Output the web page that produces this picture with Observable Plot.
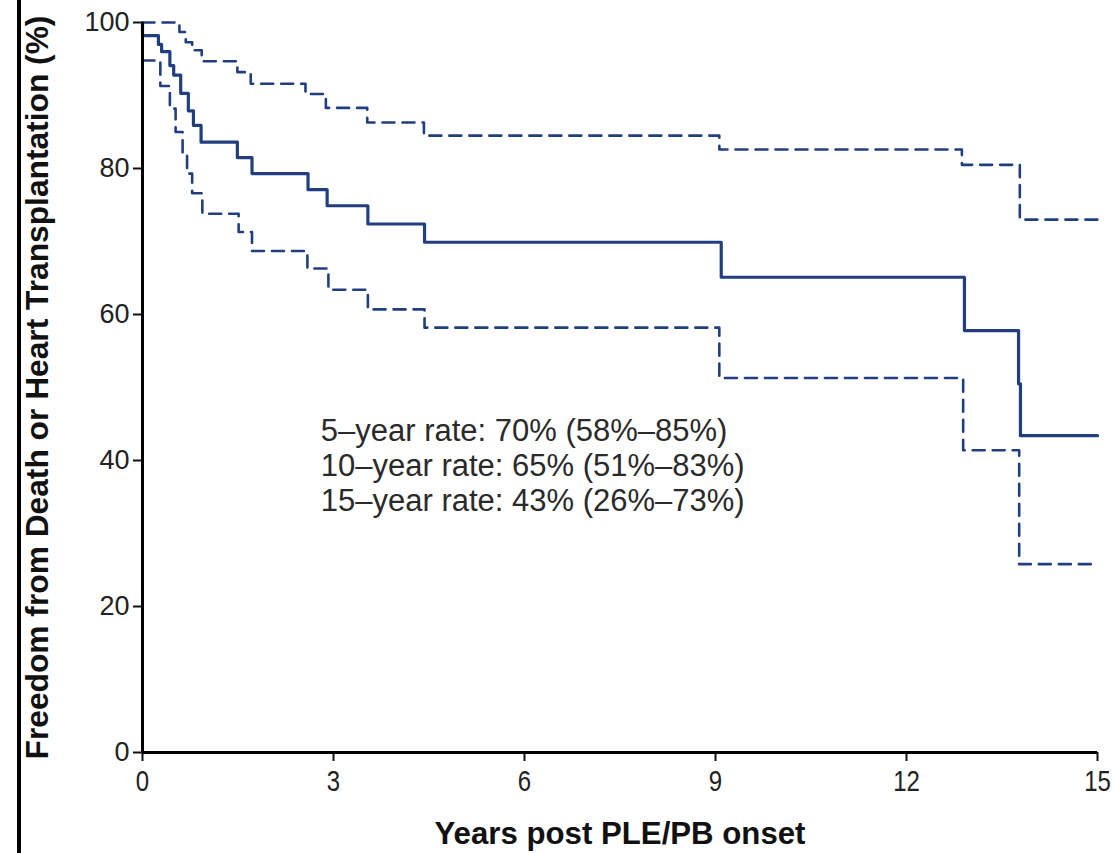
<!DOCTYPE html>
<html>
<head>
<meta charset="utf-8">
<script src="https://cdn.jsdelivr.net/npm/d3@7"></script>
<script src="https://cdn.jsdelivr.net/npm/@observablehq/plot@0.6"></script>
<style>
  html, body { margin: 0; padding: 0; background: #fff; }
  #wrap { position: relative; width: 1114px; height: 853px; overflow: hidden; }
  #wrap::before { content: ""; position: absolute; left: 17px; top: 0; width: 4px; height: 853px; background: #000; }
  svg { font-family: "Liberation Sans", Arial, sans-serif; }
  g[aria-label="y-axis tick label"] text { font-size: 27px; fill: #222; }
  g[aria-label="x-axis tick label"] text { font-family: "Liberation Sans", Arial, sans-serif; font-size: 30px; fill: #222; }
  .xtitle text, .ytitle text { font-family: "Liberation Sans", Arial, sans-serif; font-weight: bold; fill: #111; }
</style>
</head>
<body>
<div id="wrap"></div>
<script>
// Kaplan–Meier estimate (solid) and 95% confidence limits (dashed)
const kmYears = [0, 0, 0.25, 0.30, 0.43, 0.49, 0.60, 0.72, 0.80, 0.92, 1.49, 1.72, 2.60, 2.90, 3.54, 4.43, 9.09, 12.91, 13.76, 13.79, 15];
const kmFreedom = [100, 98.2, 97.0, 96.0, 94.1, 92.8, 90.3, 87.9, 85.9, 83.6, 81.5, 79.3, 77.1, 74.9, 72.4, 69.9, 65.1, 57.8, 50.5, 43.4, 43.4];

const upperYears = [0, 0.58, 0.68, 0.78, 0.93, 1.49, 1.70, 2.56, 2.88, 3.53, 4.42, 9.06, 12.87, 13.78, 15];
const upperFreedom = [100, 98.7, 97.3, 96.2, 94.7, 93.2, 91.6, 90.2, 88.3, 86.3, 84.5, 82.6, 80.5, 73.0, 73.0];

const lowerYears = [0, 0.28, 0.43, 0.52, 0.63, 0.70, 0.78, 0.94, 1.51, 1.72, 2.59, 2.92, 3.54, 4.43, 9.06, 12.89, 13.77, 15];
const lowerFreedom = [94.8, 91.3, 88.2, 85.0, 82.0, 79.3, 76.6, 73.8, 71.3, 68.7, 66.3, 63.4, 60.7, 58.2, 51.3, 41.4, 25.8, 25.8];

const xTicks = [0, 3, 6, 9, 12, 15];
const yTicks = [0, 20, 40, 60, 80, 100];
const rateLines = [
  "5\u2013year rate: 70% (58%\u201385%)",
  "10\u2013year rate: 65% (51%\u201383%)",
  "15\u2013year rate: 43% (26%\u201373%)"
];
const xTitle = "Years post PLE/PB onset";
const yTitle = "Freedom from Death or Heart Transplantation (%)";

const toRows = (xs, ys) => xs.map((x, i) => ({x, y: ys[i]}));
const km = toRows(kmYears, kmFreedom);
const upper = toRows(upperYears, upperFreedom);
const lower = toRows(lowerYears, lowerFreedom);

const navy = "#213f80";

const chart = Plot.plot({
  width: 1114,
  height: 853,
  marginLeft: 142,
  marginRight: 17,
  marginTop: 22,
  marginBottom: 101,
  x: {domain: [0, 15]},
  y: {domain: [0, 100]},
  marks: [
    Plot.axisY({ticks: yTicks, tickSize: 9, tickPadding: 4, tickFormat: d => String(d), label: null, strokeWidth: 2, stroke: "#111"}),
    Plot.axisX({ticks: xTicks, tickSize: 9, tickPadding: 8, tickFormat: d => String(d), label: null, strokeWidth: 2, stroke: "#111"}),
    Plot.line(upper, {x: "x", y: "y", curve: "step-after", stroke: navy, strokeWidth: 2.6, strokeDasharray: "12,8"}),
    Plot.line(lower, {x: "x", y: "y", curve: "step-after", stroke: navy, strokeWidth: 2.6, strokeDasharray: "12,8"}),
    Plot.line(km, {x: "x", y: "y", curve: "step-after", stroke: navy, strokeWidth: 3.2}),
    Plot.ruleX([0], {stroke: "#000", strokeWidth: 3}),
    Plot.ruleY([0], {stroke: "#000", strokeWidth: 3}),
    Plot.text([rateLines.join("\n")], {x: 2.8, y: 39.4, textAnchor: "start", lineHeight: 1.13, fontSize: 31, fill: "#2a2a2a"}),
    Plot.text([xTitle], {frameAnchor: "bottom", textAnchor: "middle", lineAnchor: "middle", dy: 81, fontSize: 32, className: "xtitle"}),
    Plot.text([yTitle], {frameAnchor: "left", textAnchor: "middle", lineAnchor: "middle", dx: -104, rotate: -90, fontSize: 31, className: "ytitle"})
  ]
});
document.getElementById("wrap").appendChild(chart);

// Condensed look of the reference's axis typography (unrotated texts)
function condense(sel, fn) {
  chart.querySelectorAll(sel).forEach(t => {
    const len = t.getComputedTextLength();
    t.setAttribute("lengthAdjust", "spacingAndGlyphs");
    t.setAttribute("textLength", fn(len));
  });
}
condense('g[aria-label="x-axis tick label"] text', len => len * 0.8);
condense('.xtitle text', () => 371);
// Rotated y title: scale along its own baseline so it stays centred
chart.querySelectorAll('.ytitle text').forEach(t => {
  const len = t.getComputedTextLength();
  const s = 744 / len;
  t.setAttribute("transform", (t.getAttribute("transform") || "") + ` scale(${s},1)`);
});
</script>
</body>
</html>
